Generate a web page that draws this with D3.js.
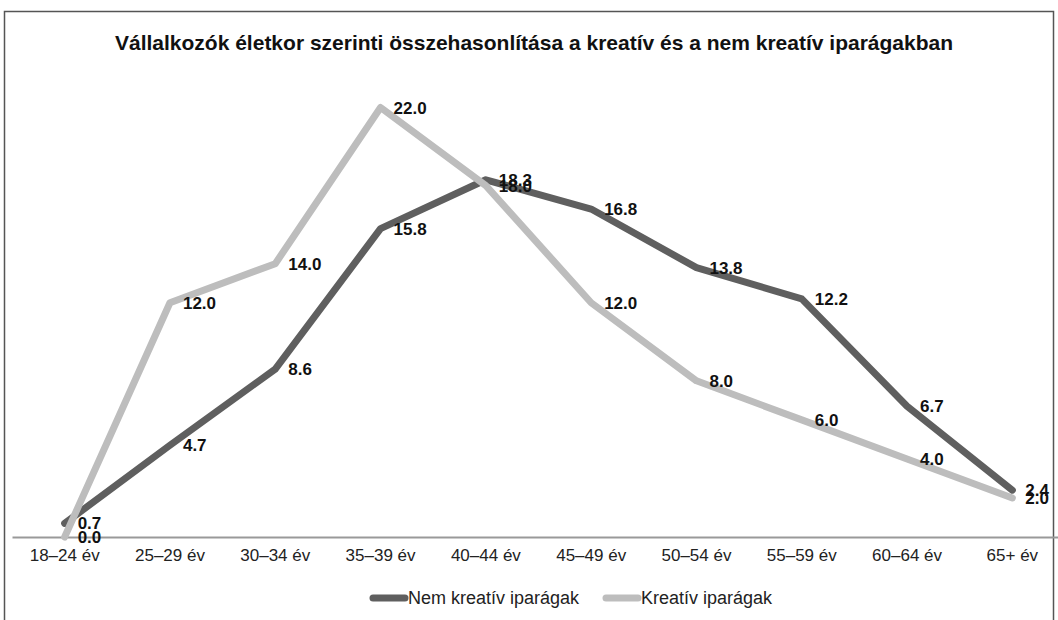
<!DOCTYPE html>
<html>
<head>
<meta charset="utf-8">
<script src="https://cdn.jsdelivr.net/npm/d3@7"></script>
<style>
  body { margin: 0; background: #fff; }
  svg { display: block; font-family: "Liberation Sans", Arial, sans-serif; }
</style>
</head>
<body>
<div id="chart"></div>
<script>
// Chart data
const categories = ["18–24 év", "25–29 év", "30–34 év", "35–39 év", "40–44 év",
  "45–49 év", "50–54 év", "55–59 év", "60–64 év", "65+ év"];
const nemKreativ = [0.7, 4.7, 8.6, 15.8, 18.3, 16.8, 13.8, 12.2, 6.7, 2.4];
const kreativ = [0.0, 12.0, 14.0, 22.0, 18.0, 12.0, 8.0, 6.0, 4.0, 2.0];
const seriesNames = ["Nem kreatív iparágak", "Kreatív iparágak"];

const width = 1058;
const height = 620;

const svg = d3.select("#chart").append("svg")
  .attr("width", width)
  .attr("height", height);

// Outer frame
svg.append("rect")
  .attr("x", 4.5).attr("y", 11.5)
  .attr("width", 1049).attr("height", 640)
  .attr("fill", "none")
  .attr("stroke", "#555")
  .attr("stroke-width", 1.5);

// Title
svg.append("text")
  .attr("x", 534).attr("y", 50)
  .attr("text-anchor", "middle")
  .attr("font-weight", "bold")
  .attr("font-size", 21)
  .attr("fill", "#111")
  .text("Vállalkozók életkor szerinti összehasonlítása a kreatív és a nem kreatív iparágakban");

const margin = { left: 12, right: -7, top: 49, bottom: 83 };
const x = d3.scaleBand()
  .domain(categories)
  .range([margin.left, width - margin.right]);
const y = d3.scaleLinear()
  .domain([0, 25])
  .range([height - margin.bottom, margin.top]);

// X axis
const xAxis = svg.append("g")
  .attr("transform", `translate(0,${y(0)})`)
  .call(d3.axisBottom(x).tickSize(0).tickPadding(12));
xAxis.select(".domain").attr("stroke", "#999").attr("stroke-width", 2);
xAxis.selectAll("text")
  .attr("font-size", 17)
  .attr("fill", "#222")
  .attr("font-family", "Liberation Sans, Arial, sans-serif");

const line = d3.line()
  .x((d, i) => x(categories[i]) + x.bandwidth() / 2)
  .y(d => y(d));

const series = [
  { name: seriesNames[0], values: nemKreativ, color: "#5f5f5f" },
  { name: seriesNames[1], values: kreativ, color: "#bdbdbd" }
];

series.forEach(s => {
  svg.append("path")
    .datum(s.values)
    .attr("fill", "none")
    .attr("stroke", s.color)
    .attr("stroke-width", 7)
    .attr("stroke-linecap", "round")
    .attr("stroke-linejoin", "round")
    .attr("d", line);
});

// Value labels
series.forEach(s => {
  svg.append("g").selectAll("text")
    .data(s.values)
    .join("text")
    .attr("x", (d, i) => x(categories[i]) + x.bandwidth() / 2 + 13)
    .attr("y", d => y(d) + 6)
    .attr("font-size", 17)
    .attr("font-weight", "bold")
    .attr("fill", "#111")
    .text(d => d.toFixed(1));
});

// Legend
const legend = svg.append("g").attr("transform", "translate(0,598)");
const legendItems = [
  { x: 373, color: series[0].color, name: seriesNames[0] },
  { x: 606, color: series[1].color, name: seriesNames[1] }
];
legendItems.forEach(it => {
  legend.append("line")
    .attr("x1", it.x).attr("x2", it.x + 32)
    .attr("y1", 0).attr("y2", 0)
    .attr("stroke", it.color)
    .attr("stroke-width", 7)
    .attr("stroke-linecap", "round");
  legend.append("text")
    .attr("x", it.x + 35).attr("y", 6)
    .attr("font-size", 18)
    .attr("fill", "#222")
    .text(it.name);
});
</script>
</body>
</html>
